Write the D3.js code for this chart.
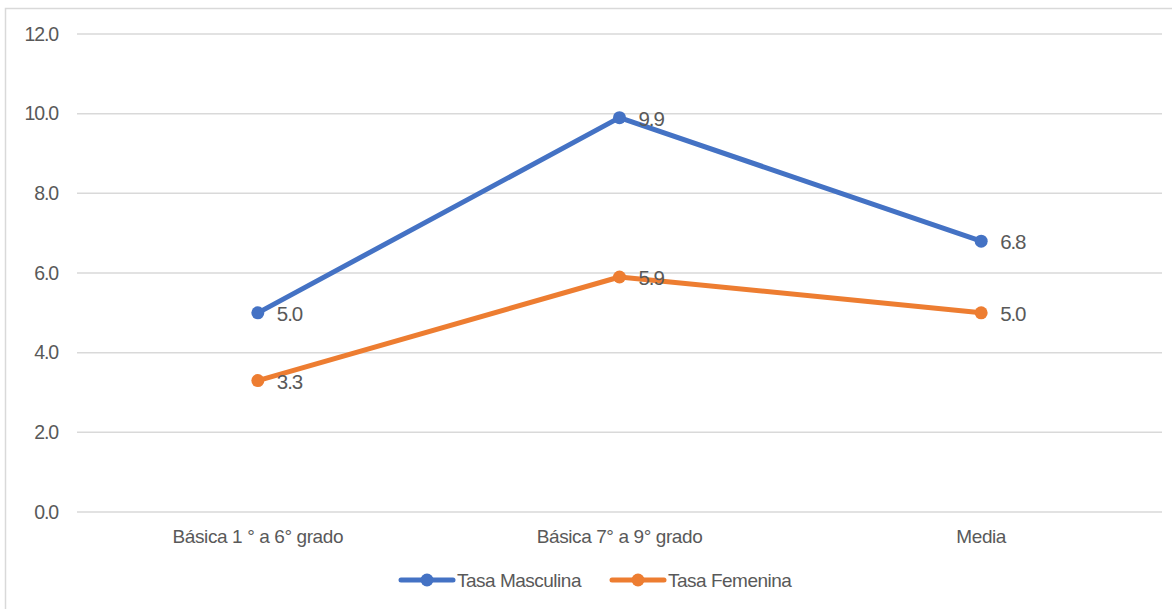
<!DOCTYPE html>
<html>
<head>
<meta charset="utf-8">
<script src="https://cdn.jsdelivr.net/npm/d3@7"></script>
<style>
  body { margin: 0; background: #fff; }
  text { font-family: "Liberation Sans Narrow", "Arial Narrow", "Liberation Sans", sans-serif; fill: #595959; }
</style>
</head>
<body>
<div id="viz-container"></div>
<script>
let categories = ["Básica 1 ° a 6° grado", "Básica 7° a 9° grado", "Media"];
let masculina = [5.0, 9.9, 6.8];
let femenina = [3.3, 5.9, 5.0];
let seriesNames = ["Tasa Masculina", "Tasa Femenina"];
let yTicks = [0, 2, 4, 6, 8, 10, 12];

let colors = ["#4472C4", "#ED7D31"];

let viz = d3.select("#viz-container")
    .append("svg")
        .attr("width", 1172)
        .attr("height", 609);

// chart border (only top & left visible in crop)
viz.append("rect")
    .attr("x", 5.5).attr("y", 8.5)
    .attr("width", 1180).attr("height", 620)
    .attr("fill", "none")
    .attr("stroke", "#d9d9d9")
    .attr("stroke-width", 1.5);

let x = d3.scaleBand().domain(categories).range([77, 1162]);
let y = d3.scaleLinear().domain([0, 12]).range([512, 34]);

// grid
viz.selectAll(".grid").data(yTicks).enter().append("line")
    .attr("class", "grid")
    .attr("x1", 77).attr("x2", 1162)
    .attr("y1", d => y(d)).attr("y2", d => y(d))
    .attr("stroke", "#d9d9d9")
    .attr("stroke-width", 1.5);

let yAxis = viz.append("g")
    .attr("transform", "translate(58,0)")
    .call(d3.axisLeft(y).tickValues(yTicks).tickFormat(d3.format(".1f")).tickSize(0));
yAxis.select(".domain").remove();
yAxis.selectAll("text")
    .attr("font-size", 19.5)
    .attr("letter-spacing", -1.1)
    .attr("x", 0);

let xAxis = viz.append("g")
    .attr("transform", "translate(0,512)")
    .call(d3.axisBottom(x).tickSize(0));
xAxis.select(".domain").remove();
xAxis.selectAll("text")
    .attr("font-size", 19)
    .attr("letter-spacing", -0.4)
    .attr("y", 31)
    .attr("dy", 0);
viz.selectAll(".tick text").attr("fill", null);

let series = [masculina, femenina];
let line = d3.line()
    .x((d, i) => x(categories[i]) + x.bandwidth() / 2)
    .y(d => y(d));

series.forEach(function(vals, s) {
    let g = viz.append("g");
    g.append("path")
        .attr("d", line(vals))
        .attr("fill", "none")
        .attr("stroke", colors[s])
        .attr("stroke-width", 5)
        .attr("stroke-linejoin", "round")
        .attr("stroke-linecap", "round");
    g.selectAll("circle").data(vals).enter().append("circle")
        .attr("cx", (d, i) => x(categories[i]) + x.bandwidth() / 2)
        .attr("cy", d => y(d))
        .attr("r", 6.5)
        .attr("fill", colors[s]);
    g.selectAll("text").data(vals).enter().append("text")
        .text(d => d.toFixed(1))
        .attr("x", (d, i) => x(categories[i]) + x.bandwidth() / 2 + 19)
        .attr("y", d => y(d) + 8)
        .attr("font-size", 20.5)
        .attr("letter-spacing", -1.1);
});

// legend
let legendX = [401, 612];
seriesNames.forEach(function(name, s) {
    let lg = viz.append("g").attr("transform", "translate(" + legendX[s] + ",580)");
    lg.append("line")
        .attr("x1", 0).attr("x2", 52)
        .attr("stroke", colors[s])
        .attr("stroke-width", 5)
        .attr("stroke-linecap", "round");
    lg.append("circle")
        .attr("cx", 26).attr("r", 6.5)
        .attr("fill", colors[s]);
    lg.append("text")
        .text(name)
        .attr("x", 56)
        .attr("y", 6.5)
        .attr("font-size", 19)
        .attr("letter-spacing", -0.5);
});
</script>
</body>
</html>
